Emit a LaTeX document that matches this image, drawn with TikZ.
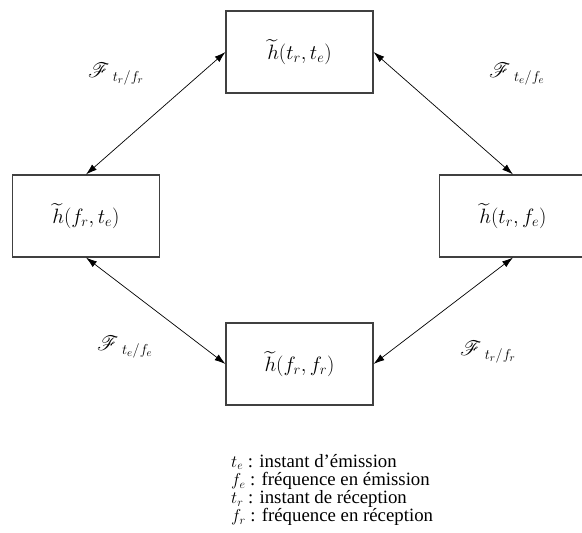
\documentclass[tikz,border=0pt]{standalone}
\usepackage{amsmath}
\usepackage{mathrsfs}
\usepackage[no-math]{fontspec}
\setmainfont{Liberation Serif}
\usetikzlibrary{arrows.meta}
\tikzset{
  boxnode/.style={draw=black!75, line width=1.1pt, minimum width=147pt, minimum height=82pt, inner sep=0pt, font=\fontsize{20}{20}\selectfont},
  conn/.style={line width=0.7pt, {Latex[length=11pt,width=7pt]}-{Latex[length=11pt,width=7pt]}},
  flabel/.style={font=\fontsize{22}{22}\selectfont, inner sep=0pt},
  legend/.style={font=\fontsize{18.8}{18.2}\selectfont, inner sep=0pt, align=left, anchor=north west}
}
\begin{document}
\begin{tikzpicture}[x=1pt,y=-1pt]
\useasboundingbox (0,0) rectangle (582,533);
\node[boxnode] (top) at (299.5,52) {$\widetilde{h}(t_r,t_e)$};
\node[boxnode] (left) at (86,216) {$\widetilde{h}(f_r,t_e)$};
\node[boxnode] (right) at (513,216) {$\widetilde{h}(t_r,f_e)$};
\node[boxnode] (bot) at (299.5,364) {$\widetilde{h}(f_r,f_r)$};
\draw[conn] (top.west) -- (left.north);
\draw[conn] (top.east) -- (right.north);
\draw[conn] (left.south) -- (bot.west);
\draw[conn] (right.south) -- (bot.east);
\node[flabel] (l1) at (116,74) {${\mathscr{F}\,}_{t_r/f_r}$};
\node[flabel] (l2) at (517,74) {${\mathscr{F}\,}_{t_e/f_e}$};
\node[flabel] (l3) at (125,347) {${\mathscr{F}\,}_{t_e/f_e}$};
\node[flabel] (l4) at (488,352) {${\mathscr{F}\,}_{t_r/f_r}$};
\node[legend] (leg) at (231,454) {$t_e$ : instant d’émission\\ $f_e$ : fréquence en émission\\ $t_r$ : instant de réception\\ $f_r$ : fréquence en réception};
\end{tikzpicture}
\end{document}
